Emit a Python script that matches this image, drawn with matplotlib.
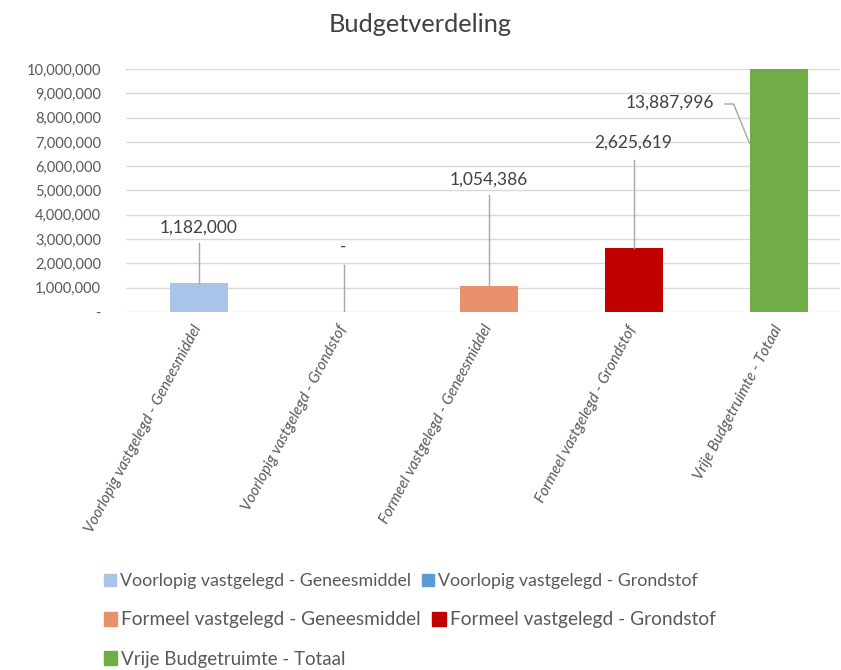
import matplotlib
matplotlib.use("Agg")
import matplotlib.pyplot as plt
import matplotlib.patches as mpatches
from matplotlib.ticker import FuncFormatter

plt.rcParams['font.family'] = ['Lato', 'DejaVu Sans']

categories = ['Voorlopig vastgelegd - Geneesmiddel', 'Voorlopig vastgelegd - Grondstof',
              'Formeel vastgelegd - Geneesmiddel', 'Formeel vastgelegd - Grondstof',
              'Vrije Budgetruimte - Totaal']
values = [1182000, 0, 1054386, 2625619, 13887996]
colors = ['#A9C4E8', '#5B9BD5', '#E8916C', '#C00000', '#70AD47']
label_texts = ['1,182,000', '-', '1,054,386', '2,625,619', '13,887,996']

fig = plt.figure(figsize=(8.41, 6.70), dpi=100)
ax = fig.add_axes([126 / 841, 1 - 312 / 670, 714 / 841, 243 / 670])

x = list(range(len(categories)))
ax.bar(x, values, width=0.4, color=colors, zorder=3)
ax.set_ylim(0, 10000000)
ax.set_xlim(-0.5, 4.424)
ax.set_yticks(range(0, 10000001, 1000000))
ax.yaxis.set_major_formatter(FuncFormatter(lambda v, p: '-' if v == 0 else f'{int(v):,}'))
ax.grid(axis='y', color='#D9D9D9', linewidth=1, zorder=0)
for s in ax.spines.values():
    s.set_visible(False)
ax.tick_params(axis='y', length=0, pad=18, labelsize=10.5, labelcolor='#595959')
ax.tick_params(axis='x', length=0, pad=10, labelsize=11, labelcolor='#595959')
ax.set_xticks(x)
ax.set_xticklabels(categories, rotation=62, ha='right', rotation_mode='anchor',
                   va='center', style='italic')

# data labels with leader lines (label heights are layout, in data units)
label_y = [3.46e6, 2.7e6, 5.43e6, 6.95e6]
leader_top = [2.84e6, 1.93e6, 4.8e6, 6.25e6]
for i in range(4):
    ax.text(x[i], label_y[i], label_texts[i], ha='center', va='center',
            fontsize=12.5, color='#404040', zorder=5)
    ax.plot([x[i], x[i]], [values[i], leader_top[i]], color='#A6A6A6', lw=1, zorder=4)

# clipped total bar: label beside it
ax.text(3.25, 8.6e6, label_texts[4], ha='center', va='center',
        fontsize=12.5, color='#404040', zorder=5)
ax.plot([3.63, 3.69, 3.80], [8.56e6, 8.56e6, 6.95e6], color='#A6A6A6', lw=1, zorder=4)

fig.text(0.5, 1 - 24 / 670, 'Budgetverdeling', ha='center', va='center',
         fontsize=18.3, color='#404040')

handles = [mpatches.Patch(color=c) for c in colors]
rows = [[0, 1], [2, 3], [4]]
row_y = [581, 620, 659]
row_size = [12.8, 13.8, 13.5]
for r, yy, fs in zip(rows, row_y, row_size):
    leg = fig.legend([handles[i] for i in r], [categories[i] for i in r],
                     loc='center left', bbox_to_anchor=(104 / 841, 1 - yy / 670),
                     ncol=len(r), frameon=False, fontsize=fs,
                     handlelength=0.7, handleheight=0.7, handletextpad=0.2,
                     columnspacing=0.6, borderaxespad=0, borderpad=0)
    for t in leg.get_texts():
        t.set_color('#595959')

fig.savefig('out.png', dpi=100)
